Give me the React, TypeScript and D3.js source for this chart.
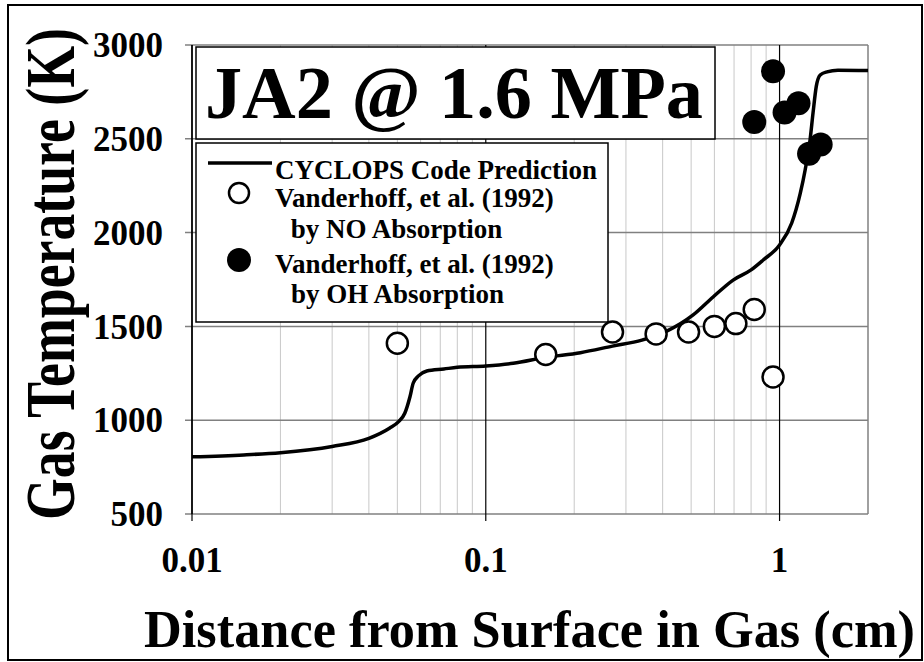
import React from "react";
import * as d3 from "d3";

// ---------- data ----------
const curveX = [0.01, 0.015, 0.02, 0.03, 0.04, 0.047, 0.0505, 0.053, 0.0552, 0.0566, 0.059, 0.063, 0.072, 0.08, 0.1, 0.124, 0.16, 0.21, 0.27, 0.34, 0.41, 0.508, 0.594, 0.695, 0.8, 0.88, 1.0, 1.1, 1.176, 1.222, 1.27, 1.3, 1.333, 1.375, 1.45, 1.58, 2.0];
const curveT = [805, 815, 827, 860, 903, 957, 992, 1037, 1125, 1197, 1236, 1262, 1273, 1282, 1289, 1303, 1335, 1360, 1395, 1427, 1472, 1561, 1657, 1747, 1801, 1854, 1934, 2051, 2209, 2334, 2494, 2638, 2778, 2840, 2857, 2866, 2864];

const noX = [0.05, 0.16, 0.27, 0.38, 0.49, 0.6, 0.71, 0.82, 0.95];
const noT = [1410, 1350, 1470, 1460, 1470, 1500, 1515, 1590, 1230];

const ohX = [0.82, 0.95, 1.04, 1.16, 1.26, 1.38];
const ohT = [2590, 2860, 2640, 2690, 2420, 2470];

const yTicks = [500, 1000, 1500, 2000, 2500, 3000];
const xMajorTicks = [0.01, 0.1, 1];
const xTickLabels = ["0.01", "0.1", "1"];
const xMinorTicks = [0.02, 0.03, 0.04, 0.05, 0.06, 0.07, 0.08, 0.09, 0.2, 0.3, 0.4, 0.5, 0.6, 0.7, 0.8, 0.9];

const titleText = "JA2 @ 1.6 MPa";
const legendLabels = [
  "CYCLOPS Code Prediction",
  "Vanderhoff, et al. (1992)",
  " by NO Absorption",
  "Vanderhoff, et al. (1992)",
  "by OH Absorption",
];
const xTitle = "Distance from Surface in Gas (cm)";
const yTitle = "Gas Temperature (K)";

// ---------- layout ----------
const W = 924;
const H = 662;
const L = 192, R = 868, T = 45, B = 514;
const FONT = "'Liberation Serif', 'Times New Roman', Times, serif";

export default function App() {
  const x = d3.scaleLog().domain([0.01, 2]).range([L, R]);
  const y = d3.scaleLinear().domain([500, 3000]).range([B, T]);

  const pts = curveX.map((v, i) => [v, curveT[i]] as [number, number]);
  const line = d3
    .line<[number, number]>()
    .x((d) => x(d[0]))
    .y((d) => y(d[1]))
    .curve(d3.curveMonotoneX);

  const legendRows = [
    { yb: 179, tx: 275 },
    { yb: 207, tx: 275 },
    { yb: 238, tx: 284 },
    { yb: 273, tx: 275 },
    { yb: 303, tx: 291 },
  ];

  return (
    <svg
      width={W}
      height={H}
      style={{ position: "absolute", left: 0, top: 0, background: "#fff", fontFamily: FONT }}
    >
      <rect x={0} y={0} width={W} height={H} fill="#fff" />
      {/* outer frame */}
      <rect x={8} y={5} width={914} height={655} fill="none" stroke="#000" strokeWidth={2} />

      {/* minor vertical gridlines */}
      {xMinorTicks.map((v) => (
        <line key={"mn" + v} x1={x(v)} x2={x(v)} y1={T} y2={B} stroke="#c8c8c8" strokeWidth={1} />
      ))}
      {/* horizontal gridlines */}
      {yTicks.map((v) => (
        <line key={"hg" + v} x1={L - 7} x2={R} y1={y(v)} y2={y(v)} stroke="#808080" strokeWidth={1.5} />
      ))}
      {/* right border */}
      <line x1={R} x2={R} y1={T} y2={B} stroke="#808080" strokeWidth={1.5} />
      {/* major vertical gridlines and ticks */}
      {xMajorTicks.map((v) => (
        <line key={"mj" + v} x1={x(v)} x2={x(v)} y1={T} y2={B + 7} stroke="#000" strokeWidth={1.2} />
      ))}
      {/* left axis */}
      <line x1={L} x2={L} y1={T} y2={B} stroke="#000" strokeWidth={1.5} />

      {/* y tick labels */}
      {yTicks.map((v) => (
        <text
          key={"yl" + v}
          x={163}
          y={y(v)}
          dy="0.35em"
          textAnchor="end"
          fontSize={35}
          fontWeight="bold"
        >
          {v}
        </text>
      ))}
      {/* x tick labels */}
      {xMajorTicks.map((v, i) => (
        <text key={"xl" + v} x={x(v)} y={572} textAnchor="middle" fontSize={35} fontWeight="bold">
          {xTickLabels[i]}
        </text>
      ))}

      {/* axis titles */}
      <text
        x={144}
        y={647}
        fontSize={53}
        fontWeight="bold"
        textLength={771}
        lengthAdjust="spacingAndGlyphs"
      >
        {xTitle}
      </text>
      <text
        transform="translate(74,520) rotate(-90)"
        x={0}
        y={0}
        fontSize={69}
        fontWeight="bold"
        textLength={492}
        lengthAdjust="spacingAndGlyphs"
      >
        {yTitle}
      </text>

      {/* title box */}
      <rect x={196} y={47} width={519} height={92} fill="#fff" stroke="#000" strokeWidth={1.5} />
      <text
        x={205}
        y={118}
        fontSize={73}
        fontWeight="bold"
        textLength={498}
        lengthAdjust="spacingAndGlyphs"
      >
        {titleText}
      </text>

      {/* legend box */}
      <rect x={196} y={143} width={412} height={179} fill="#fff" stroke="#000" strokeWidth={1.5} />
      <line x1={208} x2={272} y1={163} y2={163} stroke="#000" strokeWidth={3.5} />
      <circle cx={239} cy={193} r={10} fill="#fff" stroke="#000" strokeWidth={2.5} />
      <circle cx={239} cy={260} r={12} fill="#000" />
      {legendLabels.map((s, i) => (
        <text
          key={"lg" + i}
          x={legendRows[i].tx}
          y={legendRows[i].yb}
          fontSize={27}
          fontWeight="bold"
          xmlSpace="preserve"
        >
          {s}
        </text>
      ))}

      {/* model curve */}
      <path d={line(pts) || ""} fill="none" stroke="#000" strokeWidth={3.5} strokeLinejoin="round" />

      {/* NO absorption (open) */}
      {noX.map((v, i) => (
        <circle key={"no" + i} cx={x(v)} cy={y(noT[i])} r={10.5} fill="#fff" stroke="#000" strokeWidth={2.5} />
      ))}
      {/* OH absorption (filled) */}
      {ohX.map((v, i) => (
        <circle key={"oh" + i} cx={x(v)} cy={y(ohT[i])} r={12} fill="#000" />
      ))}
    </svg>
  );
}
